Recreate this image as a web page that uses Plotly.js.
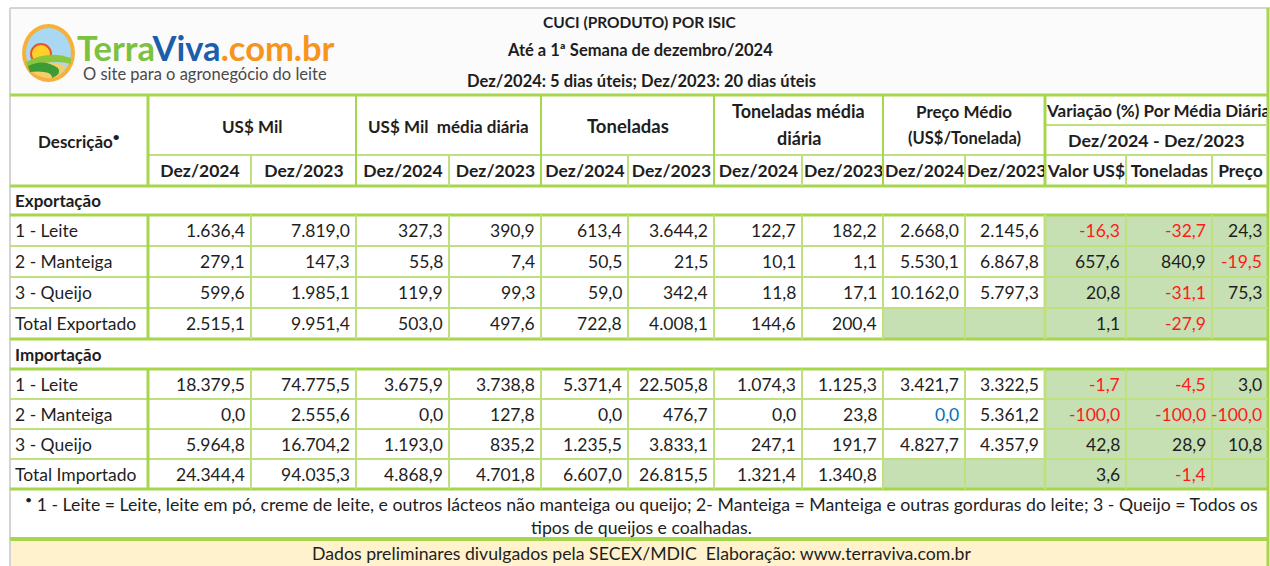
<!DOCTYPE html>
<html><head><meta charset="utf-8">
<script src="https://cdn.plot.ly/plotly-3.0.1.min.js"></script>
<style>html,body{margin:0;padding:0;background:#fff}</style>
</head><body><div id="chart" style="width:1270px;height:566px"></div>
<script>
// ---------- DATA ----------
const titleLines = ['CUCI (PRODUTO) POR ISIC', 'Até a 1ª Semana de dezembro/2024', 'Dez/2024: 5 dias úteis; Dez/2023: 20 dias úteis'];
const groupHeaders = ['US$ Mil', 'US$ Mil\u00a0 média diária', 'Toneladas', 'Toneladas média|diária', 'Preço Médio|(US$/Tonelada)'];
const variationHeader = ['Variação (%) Por Média Diária', 'Dez/2024 - Dez/2023'];
const subHeaders = ['Dez/2024','Dez/2023','Dez/2024','Dez/2023','Dez/2024','Dez/2023','Dez/2024','Dez/2023','Dez/2024','Dez/2023','Valor US$','Toneladas','Preço'];

const exportLabels = ['1 - Leite', '2 - Manteiga', '3 - Queijo', 'Total Exportado'];
const exportUsd2024 = [1636.4, 279.1, 599.6, 2515.1];
const exportUsd2023 = [7819.0, 147.3, 1985.1, 9951.4];
const exportUsdDaily2024 = [327.3, 55.8, 119.9, 503.0];
const exportUsdDaily2023 = [390.9, 7.4, 99.3, 497.6];
const exportTon2024 = [613.4, 50.5, 59.0, 722.8];
const exportTon2023 = [3644.2, 21.5, 342.4, 4008.1];
const exportTonDaily2024 = [122.7, 10.1, 11.8, 144.6];
const exportTonDaily2023 = [182.2, 1.1, 17.1, 200.4];
const exportPrice2024 = [2668.0, 5530.1, 10162.0, null];
const exportPrice2023 = [2145.6, 6867.8, 5797.3, null];
const exportVarUsd = [-16.3, 657.6, 20.8, 1.1];
const exportVarTon = [-32.7, 840.9, -31.1, -27.9];
const exportVarPrice = [24.3, -19.5, 75.3, null];

const importLabels = ['1 - Leite', '2 - Manteiga', '3 - Queijo', 'Total Importado'];
const importUsd2024 = [18379.5, 0.0, 5964.8, 24344.4];
const importUsd2023 = [74775.5, 2555.6, 16704.2, 94035.3];
const importUsdDaily2024 = [3675.9, 0.0, 1193.0, 4868.9];
const importUsdDaily2023 = [3738.8, 127.8, 835.2, 4701.8];
const importTon2024 = [5371.4, 0.0, 1235.5, 6607.0];
const importTon2023 = [22505.8, 476.7, 3833.1, 26815.5];
const importTonDaily2024 = [1074.3, 0.0, 247.1, 1321.4];
const importTonDaily2023 = [1125.3, 23.8, 191.7, 1340.8];
const importPrice2024 = [3421.7, 0.0, 4827.7, null];
const importPrice2023 = [3322.5, 5361.2, 4357.9, null];
const importVarUsd = [-1.7, -100.0, 42.8, 3.6];
const importVarTon = [-4.5, -100.0, 28.9, -1.4];
const importVarPrice = [3.0, -100.0, 10.8, null];

const footnoteLines = ['<sup>•</sup> 1 - Leite = Leite, leite em pó, creme de leite, e outros lácteos não manteiga ou queijo; 2- Manteiga = Manteiga e outras gorduras do leite; 3 - Queijo = Todos os', 'tipos de queijos e coalhadas.'];
const footerText = 'Dados preliminares divulgados pela SECEX/MDIC\u00a0 Elaboração: www.terraviva.com.br';

// ---------- LAYOUT CONSTANTS ----------
const FONT = 'Lato, "Open Sans", sans-serif';
const TXT = '#1e1e1e';
const GREEN = '#a6d64c';
const GREEN_THIN = '#bfe07e';
const FILL_GREEN = '#c6e0b4';
const colEdges = [10,148,251,356,449,541,628,714,802,883,965,1045,1126,1212,1268];
const H_TOP = 95, H_MID = 155, H_VAR = 125, H_BOT = 186;
const expSection = [186, 215];
const expRows = [215, 246, 277, 308, 339];
const impSection = [339, 369];
const impRows = [369, 399, 429, 459, 489];
const noteBand = [489, 539];
const footBand = [539, 566];
const blueCells = [{sec: 'import', row: 1, col: 8}];
const BODY = 17.5;

const exportCols = [exportUsd2024, exportUsd2023, exportUsdDaily2024, exportUsdDaily2023, exportTon2024, exportTon2023, exportTonDaily2024, exportTonDaily2023, exportPrice2024, exportPrice2023, exportVarUsd, exportVarTon, exportVarPrice];
const importCols = [importUsd2024, importUsd2023, importUsdDaily2024, importUsdDaily2023, importTon2024, importTon2023, importTonDaily2024, importTonDaily2023, importPrice2024, importPrice2023, importVarUsd, importVarTon, importVarPrice];

function fmt(v) {
  if (v === null || v === undefined) return '';
  const neg = v < 0;
  let [i, d] = Math.abs(v).toFixed(1).split('.');
  i = i.replace(/\B(?=(\d{3})+(?!\d))/g, '.');
  return (neg ? '-' : '') + i + ',' + d;
}
const ctx = document.createElement('canvas').getContext('2d');
function measure(t, size, bold) {
  ctx.font = (bold ? 'bold ' : '') + size + 'px Lato';
  return ctx.measureText(t).width;
}

const shapes = [];
const ann = [];
function rect(x0, x1, y0, y1, fill) {
  shapes.push({type: 'rect', xref: 'x', yref: 'y', x0, x1, y0, y1, fillcolor: fill, line: {width: 0}, layer: 'below'});
}
function hline(x0, x1, y, w, c) {
  shapes.push({type: 'line', xref: 'x', yref: 'y', x0, x1, y0: y, y1: y, line: {color: c || GREEN, width: w}});
}
function vline(x, y0, y1, w, c) {
  shapes.push({type: 'line', xref: 'x', yref: 'y', x0: x, x1: x, y0, y1, line: {color: c || GREEN, width: w}});
}
function text(t, x, y, opts) {
  opts = opts || {};
  const a = {xref: 'x', yref: 'y', x, y, text: t, showarrow: false,
    xanchor: opts.xa || 'center', yanchor: 'middle', borderpad: 0,
    font: {family: opts.family || FONT, size: opts.size || BODY, color: opts.color || TXT, weight: opts.bold ? 'bold' : 'normal'}};
  if (opts.clipW) {
    a.width = opts.clipW;
    a.align = measure(t, opts.size || BODY, opts.bold) > opts.clipW ? 'left' : 'center';
  }
  ann.push(a);
}

// backgrounds
rect(10, 1268, 8, 95, '#fbfbfb');
rect(colEdges[0], colEdges[14], footBand[0], footBand[1], '#fff2cc');
[expRows, impRows].forEach(rows => {
  rect(colEdges[11], colEdges[14], rows[0], rows[4], FILL_GREEN);
  rect(colEdges[9], colEdges[11], rows[3], rows[4], FILL_GREEN);
});

// frame
hline(10, 1270, 8, 2, '#d4d4d4');
vline(10, 8, 566, 2, '#d4d4d4');
vline(1268, 8, 566, 3, GREEN);

// horizontal lines
hline(10, 1268, H_TOP, 3);
hline(colEdges[1], 1268, H_MID, 2, GREEN_THIN);
hline(colEdges[11], 1268, H_VAR, 2, GREEN_THIN);
hline(10, 1268, H_BOT, 3);
[expRows, impRows].forEach(rows => {
  hline(10, 1268, rows[0], 3);
  for (let k = 1; k < rows.length - 1; k++) hline(10, 1268, rows[k], 2, GREEN_THIN);
  hline(10, 1268, rows[rows.length - 1], 3);
});
hline(10, 1268, noteBand[1], 4);

// vertical lines in header
[1, 3, 5, 7, 9, 11].forEach(c => vline(colEdges[c], H_TOP, H_BOT, c === 1 || c === 11 ? 3 : 2));
for (let c = 2; c <= 13; c++) if (![3,5,7,9,11].includes(c)) vline(colEdges[c], H_MID, H_BOT, 2, GREEN_THIN);
// vertical lines in body
[expRows, impRows].forEach(rows => {
  for (let c = 1; c <= 13; c++) vline(colEdges[c], rows[0], rows[4], (c === 1 || c === 11) ? 3 : 2, c === 1 ? GREEN : GREEN_THIN);
});

// logo
shapes.push({type: 'circle', xref: 'x', yref: 'y', x0: 22, x1: 75, y0: 24, y1: 82, fillcolor: '#f6b13c', line: {width: 0}});
shapes.push({type: 'circle', xref: 'x', yref: 'y', x0: 26, x1: 71, y0: 28, y1: 78, fillcolor: '#a9d9f2', line: {width: 0}});
shapes.push({type: 'circle', xref: 'x', yref: 'y', x0: 31, x1: 51, y0: 44, y1: 64, fillcolor: '#ffd02a', line: {color: '#e4572e', width: 2}});
shapes.push({type: 'path', xref: 'x', yref: 'y', path: 'M 26,62 Q 48,50 71,58 L 71,64 Q 50,58 28,70 Z', fillcolor: '#8cc63f', line: {width: 0}});
shapes.push({type: 'path', xref: 'x', yref: 'y', path: 'M 28,68 Q 45,58 66,66 Q 60,80 48,78 Q 34,76 28,68 Z', fillcolor: '#f2cf6a', line: {width: 0}});
shapes.push({type: 'path', xref: 'x', yref: 'y', path: 'M 28,66 Q 44,58 58,68 Q 62,74 52,78 Q 52,70 30,72 Z', fillcolor: '#3d9b35', line: {width: 0}});
text('<span style="color:#7cc142">Terra</span><span style="color:#1b5eab">Viva</span><span style="color:#f7941d">.com.br</span>', 76, 47, {xa: 'left', size: 34.5, bold: true});
text('O site para o agronegócio do leite', 82, 74, {xa: 'left', size: 16.5, color: '#4a4a4a'});

// titles
text(titleLines[0], 640, 22, {size: 15.5, bold: true});
text(titleLines[1], 640, 50, {size: 16.5, bold: true});
text(titleLines[2], 641, 81, {size: 16.5, bold: true});

// header
text('Descrição<sup>•</sup>', (colEdges[0] + colEdges[1]) / 2, 140, {size: 17, bold: true});
const gSizes = [17, 17, 18.5, 18, 17];
groupHeaders.forEach((g, k) => {
  const cx = (colEdges[1 + 2 * k] + colEdges[3 + 2 * k]) / 2;
  const parts = g.split('|');
  if (parts.length === 1) text(parts[0], cx, 126, {size: gSizes[k], bold: true});
  else { text(parts[0], cx, 111, {size: gSizes[k], bold: true}); text(parts[1], cx, 138, {size: gSizes[k] - (k === 4 ? 0.5 : 0), bold: true}); }
});
const varW = colEdges[14] - colEdges[11] - 2;
text(variationHeader[0], (colEdges[11] + colEdges[14]) / 2, 110, {size: 17, bold: true, clipW: varW});
text(variationHeader[1], (colEdges[11] + colEdges[14]) / 2, 140, {size: 17.8, bold: true});
subHeaders.forEach((s, k) => {
  const w = colEdges[k + 2] - colEdges[k + 1] - 3;
  text(s, (colEdges[k + 1] + colEdges[k + 2]) / 2, 170, {size: 17.5, bold: true, clipW: w});
});

// sections
function section(name, band, rows, labels, cols, key) {
  text(name, 14, (band[0] + band[1]) / 2, {xa: 'left', size: 17, bold: true});
  labels.forEach((lab, r) => {
    const cy = (rows[r] + rows[r + 1]) / 2;
    text(lab, 14, cy, {xa: 'left', size: BODY});
    cols.forEach((arr, c) => {
      const v = arr[r];
      if (v === null) return;
      let color = TXT;
      if (c >= 10 && v < 0) color = '#ff1a1a';
      if (blueCells.some(b => b.sec === key && b.row === r && b.col === c)) color = '#0070c0';
      text(fmt(v), colEdges[c + 2] - 5, cy, {xa: 'right', size: BODY, color});
    });
  });
}
section('Exportação', expSection, expRows, exportLabels, exportCols, 'export');
section('Importação', impSection, impRows, importLabels, importCols, 'import');

// footnote & footer
text(footnoteLines[0], 641, 503, {size: 17.7});
text(footnoteLines[1], 641, 527, {size: 17.7});
text(footerText, 641, 553, {size: 17.7});

Plotly.newPlot('chart', [{type: 'scatter', x: [], y: [], mode: 'markers', hoverinfo: 'skip'}], {
  width: 1270, height: 566,
  margin: {l: 0, r: 0, t: 0, b: 0, pad: 0},
  paper_bgcolor: '#ffffff', plot_bgcolor: '#ffffff',
  showlegend: false,
  xaxis: {range: [0, 1270], visible: false, fixedrange: true},
  yaxis: {range: [566, 0], visible: false, fixedrange: true},
  shapes, annotations: ann
}, {staticPlot: true, displayModeBar: false});
</script></body></html>
